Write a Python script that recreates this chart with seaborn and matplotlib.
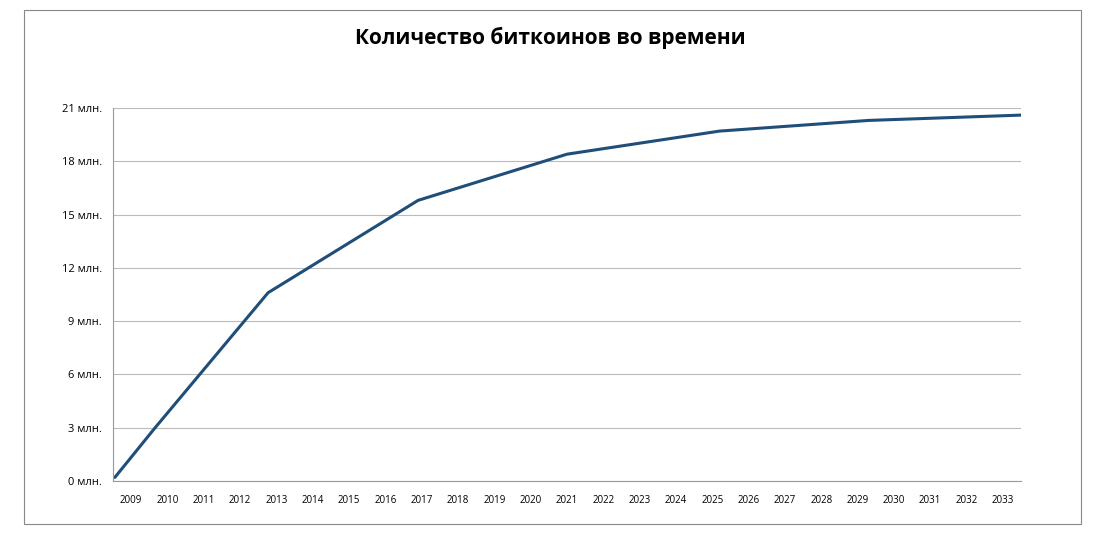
import matplotlib

matplotlib.use("Agg")
import matplotlib.pyplot as plt
import seaborn as sns
from matplotlib.patches import Rectangle

years = list(range(2009, 2034))
# curve points: position in years from start of 2009, supply in millions
point_x = [2009.05, 2010.16, 2013.27, 2017.4, 2021.5, 2025.7, 2029.8, 2034.0]
point_y = [0.2, 3.0, 10.6, 15.8, 18.4, 19.7, 20.3, 20.6]
y_ticks = [0, 3, 6, 9, 12, 15, 18, 21]
y_labels = [f"{v} млн." for v in y_ticks]

sns.set_style("white")
plt.rcParams["font.family"] = ["Open Sans", "DejaVu Sans"]

fig = plt.figure(figsize=(10.97, 5.35), dpi=100, facecolor="white")
ax = fig.add_axes([113 / 1097, 1 - 481 / 535, 908 / 1097, 373 / 535])

sns.lineplot(x=point_x, y=point_y, ax=ax, color="#1F4E79", linewidth=2.2)

ax.set_xlim(2009, 2034)
ax.set_ylim(0, 21)
ax.set_yticks(y_ticks)
ax.set_yticklabels(y_labels, fontsize=8, color="black")
ax.set_xticks([y + 0.5 for y in years])
ax.set_xticklabels([str(y) for y in years], fontsize=7, color="black")
ax.set_xticks(list(range(2009, 2035)), minor=True)
ax.tick_params(axis="x", which="major", length=0, pad=10)
ax.tick_params(axis="x", which="minor", length=5, color="#999999", direction="out")
ax.tick_params(axis="y", length=0, pad=8)
ax.grid(axis="y", color="#BBBBBB", linewidth=0.8)
for side in ["top", "right"]:
    ax.spines[side].set_visible(False)
ax.spines["left"].set_color("#999999")
ax.spines["bottom"].set_color("#999999")

fig.text(550 / 1097, 1 - 38 / 535, "Количество биткоинов во времени",
         ha="center", va="center", fontsize=15, weight="bold", color="black")
fig.patches.append(Rectangle((24 / 1097, 1 - 524 / 535), 1057 / 1097, 514 / 535,
                             transform=fig.transFigure, fill=False,
                             edgecolor="#888888", linewidth=0.8))

fig.savefig("out.png", dpi=100)
plt.close(fig)
